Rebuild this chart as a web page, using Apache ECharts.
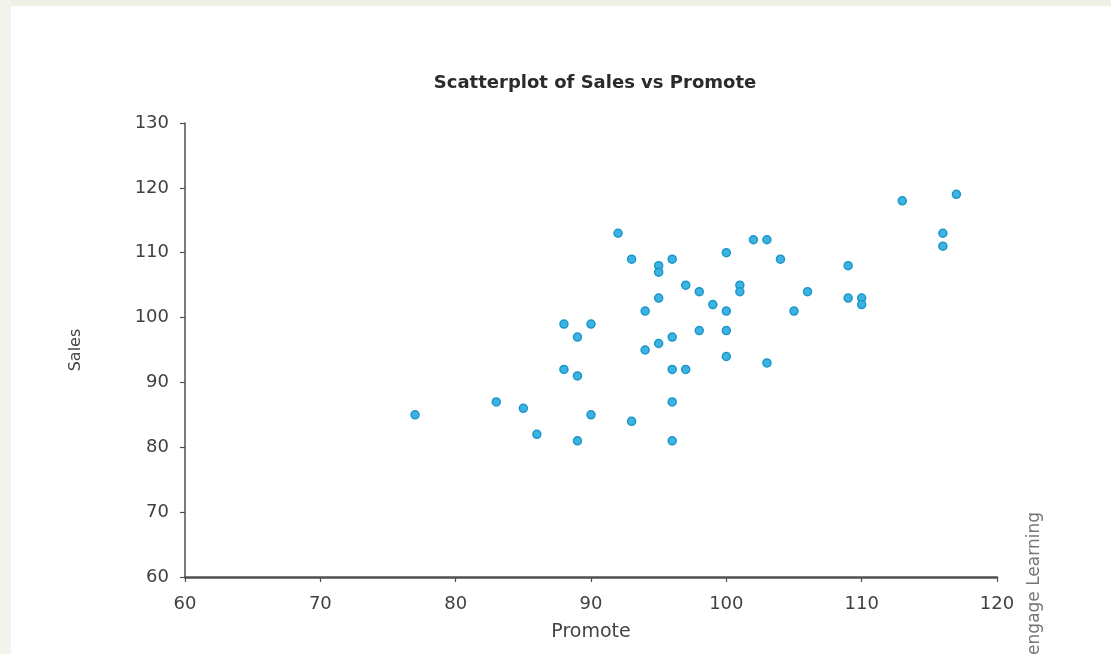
<!DOCTYPE html>
<html>
<head>
<meta charset="utf-8">
<script src="https://cdn.jsdelivr.net/npm/echarts@6/dist/echarts.min.js"></script>
<style>
html,body{margin:0;padding:0;background:#fff;}
#chart{width:1111px;height:654px;}
</style>
</head>
<body>
<div id="chart"></div>
<script>
const promote = [77,83,85,86,88,88,89,89,89,90,90,92,93,93,94,94,95,95,95,95,96,96,96,96,96,97,97,98,98,99,100,100,100,100,101,101,102,103,103,104,105,106,109,109,110,110,113,116,116,117];
const sales   = [85,87,86,82,99,92,97,91,81,99,85,113,109,84,101,95,108,107,103,96,109,97,92,87,81,105,92,104,98,102,110,101,98,94,105,104,112,112,93,109,101,104,108,103,103,102,118,113,111,119];
const xTicks = [60,70,80,90,100,110,120];
const yTicks = [60,70,80,90,100,110,120,130];
const titleText = 'Scatterplot of Sales vs Promote';
const xName = 'Promote';
const yName = 'Sales';
const credit = '© Cengage Learning';

const points = promote.map((p, i) => [p, sales[i]]);
const font = '"DejaVu Sans", "Liberation Sans", sans-serif';

const chart = echarts.init(document.getElementById('chart'), null, {renderer: 'canvas'});
chart.setOption({
  backgroundColor: '#ffffff',
  animation: false,
  title: {
    text: titleText,
    left: 590, top: 69, textAlign: 'center',
    textStyle: {fontFamily: font, fontWeight: 'bold', fontSize: 18, color: '#2b2b2b'}
  },
  grid: {left: 185, right: 114, top: 123, bottom: 77, containLabel: false},
  xAxis: {
    type: 'value', min: xTicks[0], max: xTicks[xTicks.length-1], interval: 10,
    name: xName, nameLocation: 'middle', nameGap: 46,
    nameTextStyle: {fontFamily: font, fontSize: 19, color: '#444'},
    axisLine: {show: true, onZero: false, lineStyle: {color: '#505050', width: 2.5}},
    axisTick: {show: true, length: 5, lineStyle: {color: '#505050', width: 1.2}},
    axisLabel: {fontFamily: font, fontSize: 18, color: '#404040', margin: 18},
    splitLine: {show: false}
  },
  yAxis: {
    type: 'value', min: yTicks[0], max: yTicks[yTicks.length-1], interval: 10,
    name: yName, nameLocation: 'middle', nameGap: 101, nameRotate: 90,
    nameTextStyle: {fontFamily: font, fontSize: 16, color: '#444'},
    axisLine: {show: true, onZero: false, lineStyle: {color: '#505050', width: 1.5}},
    axisTick: {show: true, length: 5, lineStyle: {color: '#505050', width: 1.2}},
    axisLabel: {fontFamily: font, fontSize: 18, color: '#404040', margin: 16},
    splitLine: {show: false}
  },
  series: [{
    type: 'scatter',
    data: points,
    symbol: 'circle',
    symbolSize: 8,
    itemStyle: {color: '#3db3e3', borderColor: '#1c97c8', borderWidth: 1.5, opacity: 1}
  }],
  graphic: [
    {type: 'rect', shape: {x: 0, y: 0, width: 1111, height: 6}, style: {fill: '#eef1e4'}, silent: true, z: 100},
    {type: 'rect', shape: {x: 0, y: 0, width: 11, height: 654}, style: {fill: '#f2f4ec'}, silent: true, z: 100},
    {type: 'text', x: 1035, y: 512, rotation: Math.PI / 2,
     style: {text: credit, fill: '#777', fontFamily: font, fontSize: 17, textAlign: 'right', textVerticalAlign: 'middle'},
     silent: true, z: 100}
  ]
});
</script>
</body>
</html>
